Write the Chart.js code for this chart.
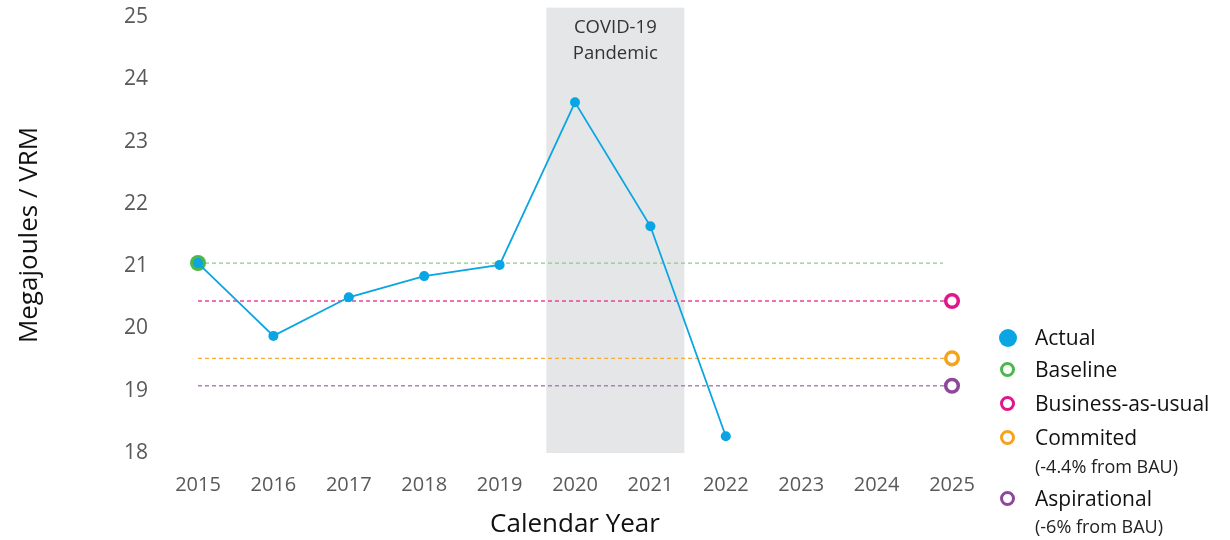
<!DOCTYPE html>
<html>
<head>
<meta charset="utf-8">
<script src="https://cdn.jsdelivr.net/npm/chart.js@4/dist/chart.umd.min.js"></script>
<style>
  body { margin: 0; background: #fff; font-family: "Open Sans", sans-serif; }
  #wrap { position: relative; width: 1230px; height: 540px; }
  #chart { display: block; }
  .item { position: absolute; left: 1035px; font-size: 21px; color: #111; white-space: nowrap; line-height: 1; }
  .item .dot { position: absolute; left: -35px; top: 50%; width: 15px; height: 15px; margin-top: -8px; border-radius: 50%; box-sizing: border-box; border: 3.5px solid; background: #fff; }
  .item .dot.fill { width: 18px; height: 18px; margin-top: -9px; left: -36px; border: none; }
  .sub { position: absolute; left: 1035px; font-size: 18px; color: #222; white-space: nowrap; line-height: 1; }
</style>
</head>
<body>
<div id="wrap">
  <canvas id="chart" width="1230" height="540"></canvas>
  <div id="legend"></div>
</div>
<script>
// data
const years = [2015, 2016, 2017, 2018, 2019, 2020, 2021, 2022];
const actual = [21.05, 19.88, 20.5, 20.84, 21.02, 23.63, 21.64, 18.27];
const baselineValue = 21.05;
const bauValue = 20.44;
const committedValue = 19.52;
const aspirationalValue = 19.08;
const startYear = 2015;
const targetYear = 2025;
const baselineEnd = 2024.88;
const covidSpan = [2019.62, 2021.45];
const covidTop = 25.15;
const covidLabel = ["COVID-19", "Pandemic"];

const BLUE = "#0aa5e2";
const GREEN = "#4db848";
const MAGENTA = "#e0168b";
const ORANGE = "#f6a31c";
const PURPLE = "#8e489b";

const legendItems = [
  { label: "Actual", color: BLUE, filled: true, top: 327 },
  { label: "Baseline", color: GREEN, top: 359 },
  { label: "Business-as-usual", color: MAGENTA, top: 393 },
  { label: "Commited", color: ORANGE, top: 427, sub: "(-4.4% from BAU)", subTop: 457 },
  { label: "Aspirational", color: PURPLE, top: 488, sub: "(-6% from BAU)", subTop: 517 },
];

const legend = document.getElementById("legend");
legendItems.forEach((it) => {
  const d = document.createElement("div");
  d.className = "item";
  d.style.top = it.top + "px";
  const dot = document.createElement("span");
  dot.className = "dot" + (it.filled ? " fill" : "");
  if (it.filled) dot.style.background = it.color;
  else dot.style.borderColor = it.color;
  d.appendChild(dot);
  d.appendChild(document.createTextNode(it.label));
  legend.appendChild(d);
  if (it.sub) {
    const s = document.createElement("div");
    s.className = "sub";
    s.style.top = it.subTop + "px";
    s.textContent = it.sub;
    legend.appendChild(s);
  }
});

Chart.defaults.font.family = '"Open Sans", sans-serif';

const covidBand = {
  id: "covidBand",
  beforeDatasetsDraw(chart) {
    const { ctx, scales: { x, y } } = chart;
    const x0 = x.getPixelForValue(covidSpan[0]);
    const x1 = x.getPixelForValue(covidSpan[1]);
    const y0 = y.getPixelForValue(covidTop);
    const y1 = y.getPixelForValue(18);
    ctx.save();
    ctx.fillStyle = "#e5e6e7";
    ctx.fillRect(x0, y0, x1 - x0, y1 - y0);
    ctx.fillStyle = "#333";
    ctx.font = '18.5px "Open Sans", sans-serif';
    ctx.textAlign = "center";
    ctx.textBaseline = "middle";
    covidLabel.forEach((t, i) => ctx.fillText(t, (x0 + x1) / 2, y0 + 20 + i * 26));
    ctx.restore();
  },
};

function flatLine(value, end) {
  return [{ x: startYear, y: value }, { x: end, y: value }];
}

function target(label, value, line, ring) {
  return {
    label,
    data: flatLine(value, targetYear),
    borderColor: line,
    borderWidth: 1.3,
    borderDash: [4, 3],
    pointRadius: [0, 6.3],
    pointBorderWidth: 3.5,
    pointBorderColor: ring,
    pointBackgroundColor: "#fff",
    clip: false,
    order: 1,
  };
}

new Chart(document.getElementById("chart"), {
  type: "line",
  data: {
    datasets: [
      {
        label: "Actual",
        data: years.map((x, i) => ({ x, y: actual[i] })),
        borderColor: BLUE,
        backgroundColor: BLUE,
        borderWidth: 1.8,
        pointRadius: 5,
        pointBorderWidth: 0,
        pointBackgroundColor: BLUE,
        clip: false,
        order: 0,
      },
      {
        label: "Baseline",
        data: flatLine(baselineValue, baselineEnd),
        borderColor: "#86d07f",
        borderWidth: 1.3,
        borderDash: [4, 3],
        pointRadius: [8, 0],
        pointBorderWidth: 0,
        pointBackgroundColor: GREEN,
        clip: false,
        order: 1,
      },
      target("Business-as-usual", bauValue, "#e8439f", MAGENTA),
      target("Commited", committedValue, "#f5ac3c", ORANGE),
      target("Aspirational", aspirationalValue, "#b57cc6", PURPLE),
    ],
  },
  options: {
    responsive: false,
    animation: false,
    events: [],
    layout: { padding: { top: 17, right: 278, left: 0, bottom: 0 } },
    plugins: { legend: { display: false }, tooltip: { enabled: false } },
    scales: {
      x: {
        type: "linear",
        min: 2015,
        max: 2025,
        grid: { display: false, drawTicks: true, tickLength: 20 },
        border: { display: false },
        ticks: {
          stepSize: 1,
          padding: 0,
          color: "#58595b",
          font: { size: 20 },
          callback: (v) => String(v),
        },
        title: {
          display: true,
          text: "Calendar Year",
          color: "#111",
          font: { size: 26 },
          padding: { top: 0, bottom: 0 },
        },
        afterFit: (s) => { s.height = 87; },
      },
      y: {
        min: 18,
        max: 25,
        grid: { display: false, drawTicks: true, tickLength: 50 },
        border: { display: false },
        ticks: {
          stepSize: 1,
          padding: 0,
          color: "#58595b",
          font: { size: 21 },
        },
        title: {
          display: true,
          text: "Megajoules / VRM",
          color: "#111",
          font: { size: 26 },
          padding: { top: 14, bottom: 0 },
        },
        afterFit: (s) => { s.width = 198; },
      },
    },
  },
  plugins: [covidBand],
});
</script>
</body>
</html>
